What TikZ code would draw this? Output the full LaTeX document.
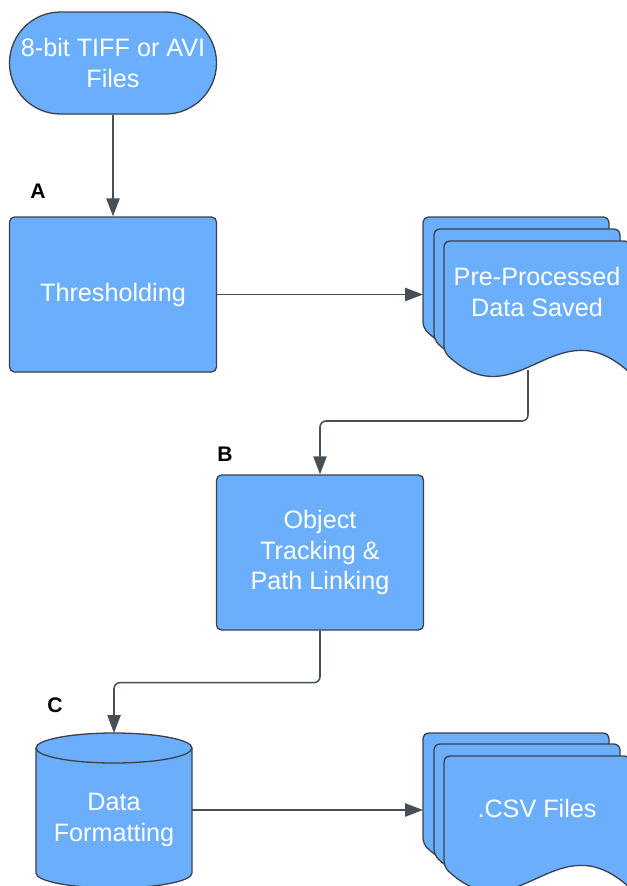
\documentclass[tikz,border=0pt]{standalone}
\usepackage{fontspec}
\setmainfont{Liberation Sans}
\usetikzlibrary{arrows.meta}
\definecolor{boxblue}{HTML}{6AAEFC}
\definecolor{edgegray}{HTML}{3A414A}
\definecolor{linegray}{HTML}{484E56}

% one sheet of a document stack, top left corner given in px
\newcommand{\docpage}[2]{%
  \path[draw=edgegray,fill=boxblue,line width=1.1pt]
    ({#1+186},{-#2-132}) [rounded corners=0.18cm] -- ({#1+186},-#2) -- (#1,-#2) -- (#1,{-#2-111}) [sharp corners]
    .. controls ({#1+74},{-#2-180}) and ({#1+112},{-#2-63}) .. ({#1+186},{-#2-132}) -- cycle;}

\begin{document}
\begin{tikzpicture}[x=0.03cm,y=0.03cm,every text node part/.style={align=center},
  boxtext/.style={text=white,font=\fontsize{21.5}{26.4}\selectfont},
  flowbox/.style={boxtext,draw=edgegray,fill=boxblue,line width=1.1pt,rectangle,rounded corners=0.15cm,minimum width=6.21cm,minimum height=4.65cm},
  termbox/.style={boxtext,draw=edgegray,fill=boxblue,line width=1.1pt,rectangle,rounded corners=1.53cm,minimum width=6.21cm,minimum height=3.06cm,inner sep=1pt},
  steplabel/.style={font=\fontsize{18}{21}\selectfont\bfseries},
  flow/.style={draw=linegray,line width=1.3pt,-{Triangle[length=0.54cm,width=0.4cm]},rounded corners=0.18cm}]
        \useasboundingbox (0,0) rectangle (627,-886);
        \clip (0,0) rectangle (627,-886);

        \node[termbox] (input) at (113,-63) {8-bit TIFF or AVI\\Files};
        \node[flowbox] (thresh) at (113,-294.5) {Thresholding};
        \node[flowbox] (track) at (320,-552.5) {Object\\Tracking \&\\Path Linking};

        % saved data stack
        \docpage{423}{217}
        \docpage{434}{229}
        \docpage{444}{241}
        \node[boxtext] (saved) at (537,-292) {Pre-Processed\\Data Saved};
        \coordinate (savedin) at (423,-294.5);
        \coordinate (savedout) at (528,-370);

        % formatting cylinder
        \path[draw=edgegray,fill=boxblue,line width=1.1pt] (36,-748) -- (36,-873) arc[start angle=180,end angle=360,x radius=2.34cm,y radius=0.45cm] -- (192,-748) arc[start angle=0,end angle=180,x radius=2.34cm,y radius=0.45cm] -- cycle;
        \draw[edgegray,line width=1.1pt] (36,-748) arc[start angle=180,end angle=360,x radius=2.34cm,y radius=0.45cm];
        \node[boxtext] (fmt) at (114,-820) {Data\\Formatting};
        \coordinate (fmttop) at (114,-733);
        \coordinate (fmtout) at (192,-810);

        % csv stack
        \docpage{423}{733}
        \docpage{434}{744}
        \docpage{444}{756}
        \node[boxtext] (csv) at (537,-808) {.CSV Files};
        \coordinate (csvin) at (423,-810);

        \node[steplabel] (labA) at (38,-191) {A};
        \node[steplabel] (labB) at (225,-454) {B};
        \node[steplabel] (labC) at (55,-705) {C};

        \path[flow] (input) -- (thresh);
        \path[flow] (thresh.east) -- (savedin);
        \path[flow] (savedout) -- ++(0,-51) -| (track.north);
        \path[flow] (track.south) -- ++(0,-52) -| (fmttop);
        \path[flow] (fmtout) -- (csvin);
\end{tikzpicture}
\end{document}
